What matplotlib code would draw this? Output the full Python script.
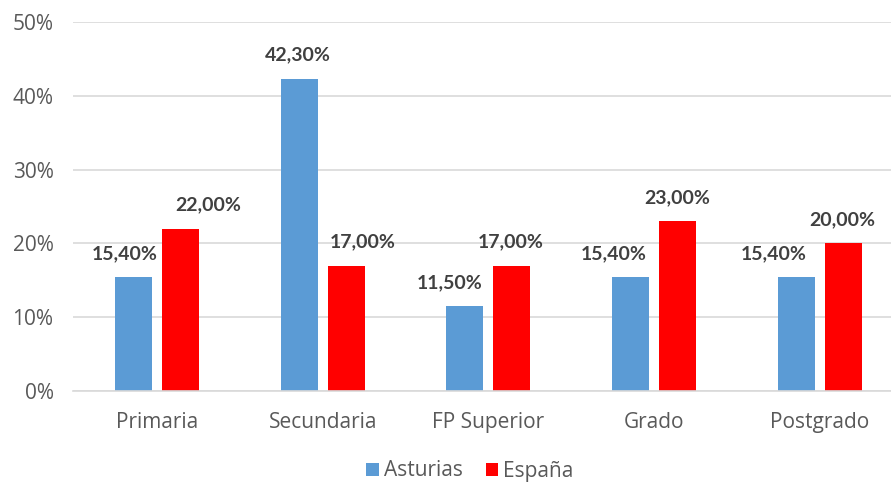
import matplotlib
matplotlib.use("Agg")
import matplotlib.pyplot as plt
import numpy as np
from matplotlib.ticker import FuncFormatter, MultipleLocator

# data (percent)
categories = ["Primaria", "Secundaria", "FP Superior", "Grado", "Postgrado"]
asturias = [15.4, 42.3, 11.5, 15.4, 15.4]
espana = [22.0, 17.0, 17.0, 23.0, 20.0]

# small manual nudges of the value labels (points), as dragged in the original
ast_nudge = [-6, -1, -11, -12, -16]
esp_nudge = [20, 12, -1, 0, -1]

plt.rcParams["font.family"] = ["Open Sans", "DejaVu Sans"]

BLUE = "#5b9bd5"
RED = "#ff0000"
GRID = "#d9d9d9"
TXT = "#595959"
LBL = "#404040"

fig = plt.figure(figsize=(8.91, 4.84), dpi=100)
ax = fig.add_axes([73 / 891, 93 / 484, 818 / 891, 369 / 484])

x = np.arange(len(categories))
w = 0.224
off = 0.142
b1 = ax.bar(x - off, asturias, w, color=BLUE, label="Asturias", zorder=2)
b2 = ax.bar(x + off, espana, w, color=RED, label="España", zorder=2)


def fmt(v):
    return f"{v:.2f}".replace(".", ",") + "%"


for bars, vals, nudge in ((b1, asturias, ast_nudge), (b2, espana, esp_nudge)):
    for r, v, dx in zip(bars, vals, nudge):
        ax.annotate(fmt(v), (r.get_x() + r.get_width() / 2, v),
                    xytext=(dx, 17), textcoords="offset points",
                    ha="center", va="center", fontsize=14, fontweight="bold",
                    color=LBL, family=["Lato", "DejaVu Sans"])

ax.set_ylim(0, 50)
ax.set_xlim(-0.507, 4.43)
ax.yaxis.set_major_locator(MultipleLocator(10))
ax.yaxis.set_major_formatter(FuncFormatter(lambda v, p: f"{v:.0f}%"))
ax.grid(axis="y", color=GRID, linewidth=1.2, zorder=0)
ax.set_axisbelow(True)
for s in ("top", "right", "left"):
    ax.spines[s].set_visible(False)
ax.spines["bottom"].set_color(GRID)
ax.spines["bottom"].set_linewidth(1.2)

ax.set_xticks(x)
ax.set_xticklabels(categories)
ax.tick_params(axis="x", length=0, pad=15, labelsize=15, labelcolor=TXT)
ax.tick_params(axis="y", length=0, pad=14, labelsize=15, labelcolor=TXT)

fig.legend(handles=[b1, b2], loc="center", bbox_to_anchor=(470 / 891, 1 - 471 / 484),
           ncol=2, frameon=False, fontsize=15, handlelength=0.6, handleheight=0.6,
           handletextpad=0.25, columnspacing=1.1, labelcolor=TXT, borderpad=0.1)

fig.savefig("out.png", dpi=100)
plt.close(fig)
